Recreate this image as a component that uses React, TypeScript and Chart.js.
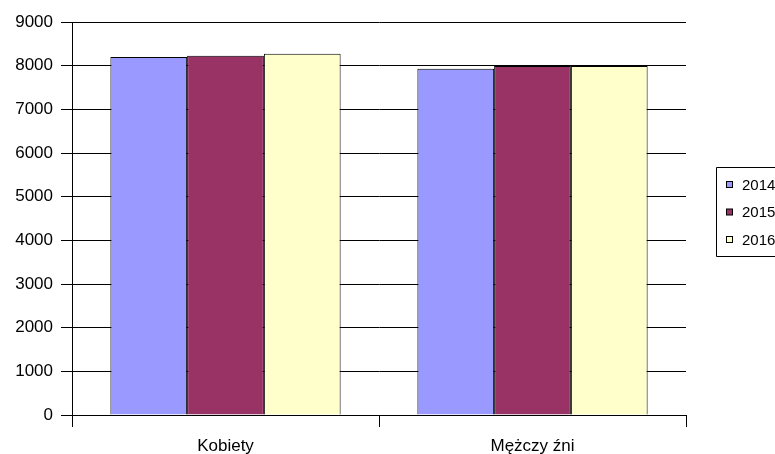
import React, { useEffect, useRef } from "react";
import { Chart, registerables } from "chart.js";

Chart.register(...registerables);

const categories = ["Kobiety", "Mężczy źni"];
const seriesLabels = ["2014", "2015", "2016"];
const values2014 = [8199, 7931];
const values2015 = [8229, 7993];
const values2016 = [8275, 7995];
const yTicks = [0, 1000, 2000, 3000, 4000, 5000, 6000, 7000, 8000, 9000];
const colors = ["#9999FF", "#993366", "#FFFFCC"];

const FONT = "'Liberation Sans', Arial, sans-serif";
const FS = 17;

const legendBox = {
  id: "legendBox",
  afterDraw(chart: any) {
    const ctx = chart.ctx;
    const left = 716.5;
    const top = 167.5;
    const bottom = 256.5;
    ctx.save();
    ctx.strokeStyle = "#000";
    ctx.lineWidth = 1;
    ctx.beginPath();
    ctx.moveTo(780, top);
    ctx.lineTo(left, top);
    ctx.lineTo(left, bottom);
    ctx.lineTo(780, bottom);
    ctx.stroke();
    ctx.font = `15px ${FONT}`;
    ctx.textBaseline = "middle";
    ctx.textAlign = "left";
    chart.data.datasets.forEach((ds: any, i: number) => {
      const cy = 185 + i * 27.5;
      ctx.fillStyle = ds.backgroundColor;
      ctx.fillRect(726.5, cy - 3.5, 6, 6);
      ctx.strokeStyle = "#000";
      ctx.strokeRect(726.5, cy - 3.5, 6, 6);
      ctx.fillStyle = "#000";
      ctx.fillText(ds.label, 742, cy + 0.5);
    });
    ctx.restore();
  },
};

export default function App() {
  const ref = useRef<HTMLCanvasElement>(null);
  useEffect(() => {
    if (!ref.current) return;
    const series = [values2014, values2015, values2016];
    const chart = new Chart(ref.current, {
      type: "bar",
      data: {
        labels: categories,
        datasets: seriesLabels.map((l, i) => ({
          label: l,
          data: series[i],
          backgroundColor: colors[i],
          borderColor: "#000",
          borderWidth: 1,
          categoryPercentage: 0.75,
          barPercentage: 1.0,
        })),
      },
      options: {
        animation: false,
        responsive: false,
        maintainAspectRatio: false,
        layout: { padding: { top: 22, right: 89, bottom: 0, left: 0 } },
        plugins: { legend: { display: false }, tooltip: { enabled: false } },
        scales: {
          x: {
            grid: {
              display: true,
              drawOnChartArea: false,
              drawTicks: true,
              tickLength: 12,
              color: "#000",
              offset: true,
            },
            border: { display: true, color: "#000", width: 1 },
            ticks: {
              color: "#000",
              font: { family: FONT, size: FS },
              padding: 9,
              maxRotation: 0,
            },
            afterFit: (s: any) => {
              s.height = 39;
            },
          },
          y: {
            min: 0,
            max: 9000,
            afterBuildTicks: (s: any) => {
              s.ticks = yTicks.map((v) => ({ value: v }));
            },
            grid: {
              color: "#000",
              lineWidth: 1,
              tickLength: 11,
              drawTicks: true,
            },
            border: { display: true, color: "#000", width: 1 },
            ticks: {
              color: "#000",
              font: { family: FONT, size: FS },
              padding: 8,
              callback: (v: any) => String(v),
            },
            afterFit: (s: any) => {
              s.width = 72;
            },
          },
        },
      },
      plugins: [legendBox],
    });
    return () => chart.destroy();
  }, []);
  return (
    <div style={{ position: "fixed", left: 0, top: 0, width: 775, height: 454, background: "#fff" }}>
      <canvas ref={ref} width={775} height={454} style={{ display: "block" }} />
    </div>
  );
}
